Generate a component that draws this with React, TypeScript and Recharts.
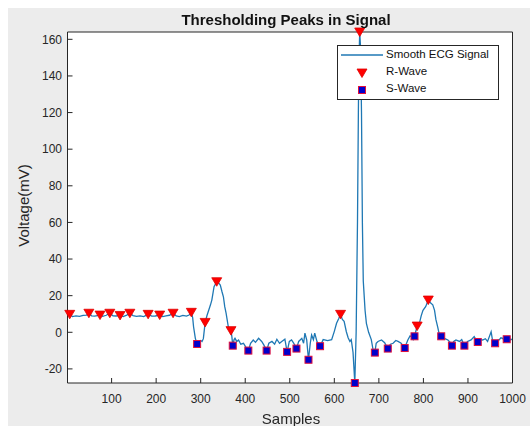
import { ComposedChart, Line, Scatter, XAxis, YAxis } from "recharts";

// smoothed ECG trace (sample index -> mV)
const ecgSamples = [
  1, 6, 12, 20, 28, 36, 44, 49, 55, 62, 68, 74, 80, 88, 96, 103, 110, 119, 126, 134,
  141, 148, 156, 164, 172, 182, 190, 198, 208, 215, 222, 230, 238, 245, 252, 260, 268, 274, 279, 282,
  284, 288, 292, 296, 300, 303, 306, 310, 314, 318, 322, 325, 330, 336, 340, 344, 348, 351, 354, 357,
  362, 368, 370, 372, 375, 377, 381, 385, 390, 396, 401, 407, 412, 418, 423, 430, 437, 442, 448, 453,
  460, 466, 471, 477, 482, 489, 494, 499, 504, 509, 515, 520, 527, 531, 534, 538, 542, 546, 549, 553,
  556, 561, 568, 575, 585, 594, 600, 605, 610, 614, 618, 622, 627, 631, 635, 638, 642, 646, 649, 652,
  654, 655, 657, 659, 661, 663, 665, 667, 669, 672, 677, 683, 687, 691, 694, 698, 706, 713, 720, 726,
  732, 738, 743, 750, 758, 765, 770, 773, 777, 780, 786, 791, 795, 799, 805, 811, 817, 821, 825, 828,
  832, 836, 840, 847, 855, 860, 864, 868, 873, 881, 886, 892, 899, 907, 914, 918, 922, 927, 933, 939,
  944, 952, 955, 961, 965, 970, 974, 978, 983, 987, 992, 996, 1000,
];
const ecgVoltage = [
  9.5, 9.8, 8.6, 9.0, 8.7, 9.2, 9.4, 10.4, 9.0, 8.8, 9.1, 9.4, 8.7, 9.3, 10.4, 9.0, 8.9, 9.2, 8.6, 9.4,
  10.4, 9.1, 8.7, 9.0, 8.6, 9.8, 8.8, 8.9, 9.4, 8.6, 9.0, 9.3, 10.4, 9.0, 8.6, 9.2, 8.8, 9.4, 10.9, 8.0,
  3.0, -3.3, -6.4, -5.0, -4.5, -5.0, -3.5, 5.4, 9.0, 12.0, 15.0, 17.6, 24.9, 27.6, 27.0, 25.8, 22.0, 19.4, 14.0, 10.4,
  3.0, 0.9, -2.4, -7.3, -4.0, -3.3, -5.0, -4.2, -6.5, -6.0, -8.0, -10.0, -6.0, -4.2, -5.5, -3.3, -5.0, -7.0, -10.0, -6.0,
  -5.0, -6.5, -3.8, -6.0, -5.0, -3.8, -10.7, -5.0, -4.2, -6.0, -8.9, -5.0, -3.3, -6.0, -0.5, -4.2, -15.0, -6.0, -1.5, -4.0,
  -0.5, -5.0, -7.6, -4.0, -4.5, -4.0, 0.5, 4.9, 7.5, 9.8, 7.0, 6.0, 0.3, -3.0, -5.0, -4.0, -11.0, -27.7, 0.0, 60.0,
  120.0, 145.0, 164.0, 155.0, 120.0, 60.0, 28.0, 20.0, 12.0, 4.9, 0.0, -4.0, -9.6, -11.1, -6.0, -5.0, -4.2, -5.7, -8.9, -6.5,
  -6.0, -4.5, -5.0, -6.0, -8.6, -4.2, -2.0, -2.4, -4.0, -2.2, 3.4, 4.9, 9.0, 12.0, 14.0, 17.6, 15.8, 15.0, 12.0, 7.0,
  3.0, -1.5, -2.2, -3.3, -4.2, -5.5, -7.3, -5.0, -4.2, -5.0, -4.0, -7.3, -5.0, -4.2, -2.4, -4.0, -5.3, -4.0, -4.2, -3.5,
  -5.0, 0.3, -4.2, -6.0, -4.5, -4.2, -3.0, -3.3, -5.0, -3.8, -3.0, -4.2, -3.5,
];

// detected peaks
const rWaveSamples = [6, 49, 74, 96, 119, 141, 182, 208, 238, 279, 310, 336, 368, 614, 657, 786, 811];
const rWaveVoltage = [9.8, 10.4, 9.4, 10.4, 9.2, 10.4, 9.8, 9.4, 10.4, 10.9, 5.4, 27.6, 0.9, 9.8, 164.0, 3.4, 17.6];
const sWaveSamples = [292, 372, 407, 448, 494, 515, 542, 568, 646, 691, 720, 758, 780, 840, 864, 892, 922, 961, 987];
const sWaveVoltage = [-6.4, -7.3, -10.0, -10.0, -10.7, -8.9, -15.0, -7.6, -27.7, -11.1, -8.9, -8.6, -2.2, -2.2, -7.3, -7.3, -5.3, -6.0, -3.8];

const sampleTicks = [100, 200, 300, 400, 500, 600, 700, 800, 900, 1000];
const voltageTicks = [-20, 0, 20, 40, 60, 80, 100, 120, 140, 160];

const signal = ecgSamples.map((x, i) => ({ x, y: ecgVoltage[i] }));
const rWaves = rWaveSamples.map((x, i) => ({ x, y: rWaveVoltage[i] }));
const sWaves = sWaveSamples.map((x, i) => ({ x, y: sWaveVoltage[i] }));

const FONT = '"Liberation Sans", Arial, Helvetica, sans-serif';
const AXIS = "#262626";
const LINE = "#1f78b4";
const xDomain = [1, 1000];
const yDomain = [-27.7, 164];

const tickStyle = { fontSize: 12, fill: AXIS, fontFamily: FONT };

function Triangle({ cx, cy }: { cx?: number; cy?: number }) {
  if (cx == null || cy == null) return null;
  return (
    <path
      d={`M${cx - 5},${cy - 4} L${cx + 5},${cy - 4} L${cx},${cy + 4.5} Z`}
      fill="#ff0000"
      stroke="#e00000"
      strokeWidth={0.8}
    />
  );
}

function Square({ cx, cy }: { cx?: number; cy?: number }) {
  if (cx == null || cy == null) return null;
  return <rect x={cx - 3.5} y={cy - 3.5} width={7} height={7} fill="#0000cc" stroke="#e0103c" strokeWidth={1} />;
}

function LegendBox() {
  const row = (y: number) => ({ position: "absolute" as const, left: 48, top: y, fontSize: 11.5, color: "#111" });
  return (
    <div
      style={{
        position: "absolute",
        left: 329,
        top: 37,
        width: 162,
        height: 55,
        background: "#fff",
        border: `1px solid ${AXIS}`,
        boxSizing: "border-box",
        fontFamily: FONT,
      }}
    >
      <svg width={162} height={55} style={{ position: "absolute", left: 0, top: 0 }}>
        <line x1={3} x2={45} y1={9} y2={9} stroke={LINE} strokeWidth={1.3} />
        <Triangle cx={24} cy={27} />
        <Square cx={24} cy={44} />
      </svg>
      <div style={row(2)}>Smooth ECG Signal</div>
      <div style={row(19)}>R-Wave</div>
      <div style={row(36)}>S-Wave</div>
    </div>
  );
}

export default function App() {
  // fixed so the figure never makes the page scroll
  return (
    <div
      style={{
        position: "fixed",
        left: 8,
        top: 8,
        width: 522,
        height: 418,
        background: "#ececec",
        fontFamily: FONT,
      }}
    >
      <ComposedChart width={522} height={418} margin={{ top: 23, right: 16.5, bottom: 3, left: 0 }}>
        <rect x={59.5} y={24} width={445} height={351} fill="#ffffff" />
        <XAxis
          dataKey="x"
          type="number"
          domain={xDomain}
          ticks={sampleTicks}
          height={40}
          tickSize={-5}
          tickMargin={16}
          tick={tickStyle}
          axisLine={{ stroke: AXIS }}
          tickLine={{ stroke: AXIS }}
        />
        <XAxis
          xAxisId="top"
          orientation="top"
          dataKey="x"
          type="number"
          domain={xDomain}
          ticks={sampleTicks}
          height={1}
          tickSize={-5}
          tickFormatter={() => ""}
          axisLine={{ stroke: AXIS }}
          tickLine={{ stroke: AXIS }}
        />
        <YAxis
          dataKey="y"
          type="number"
          domain={yDomain}
          ticks={voltageTicks}
          width={59.5}
          tickSize={-5}
          tickMargin={10.5}
          tick={tickStyle}
          axisLine={{ stroke: AXIS }}
          tickLine={{ stroke: AXIS }}
        />
        <YAxis
          yAxisId="right"
          orientation="right"
          type="number"
          domain={yDomain}
          ticks={voltageTicks}
          width={1}
          tickSize={-5}
          tickFormatter={() => ""}
          axisLine={{ stroke: AXIS }}
          tickLine={{ stroke: AXIS }}
        />
        <Line
          data={signal}
          dataKey="y"
          type="linear"
          stroke={LINE}
          strokeWidth={1.3}
          dot={false}
          isAnimationActive={false}
        />
        <Scatter data={rWaves} dataKey="y" shape={<Triangle />} isAnimationActive={false} />
        <Scatter data={sWaves} dataKey="y" shape={<Square />} isAnimationActive={false} />
      </ComposedChart>
      <LegendBox />
      <div
        style={{
          position: "absolute",
          left: 0,
          width: 556,
          top: 3,
          textAlign: "center",
          fontSize: 15,
          fontWeight: "bold",
          color: "#111",
        }}
      >
        Thresholding Peaks in Signal
      </div>
      <div
        style={{
          position: "absolute",
          left: 283 - 60,
          width: 120,
          top: 402,
          textAlign: "center",
          fontSize: 15,
          color: AXIS,
        }}
      >
        Samples
      </div>
      <div
        style={{
          position: "absolute",
          left: 15 - 60,
          top: 198 - 9,
          width: 120,
          textAlign: "center",
          fontSize: 15,
          color: AXIS,
          transform: "rotate(-90deg)",
        }}
      >
        Voltage(mV)
      </div>
    </div>
  );
}
